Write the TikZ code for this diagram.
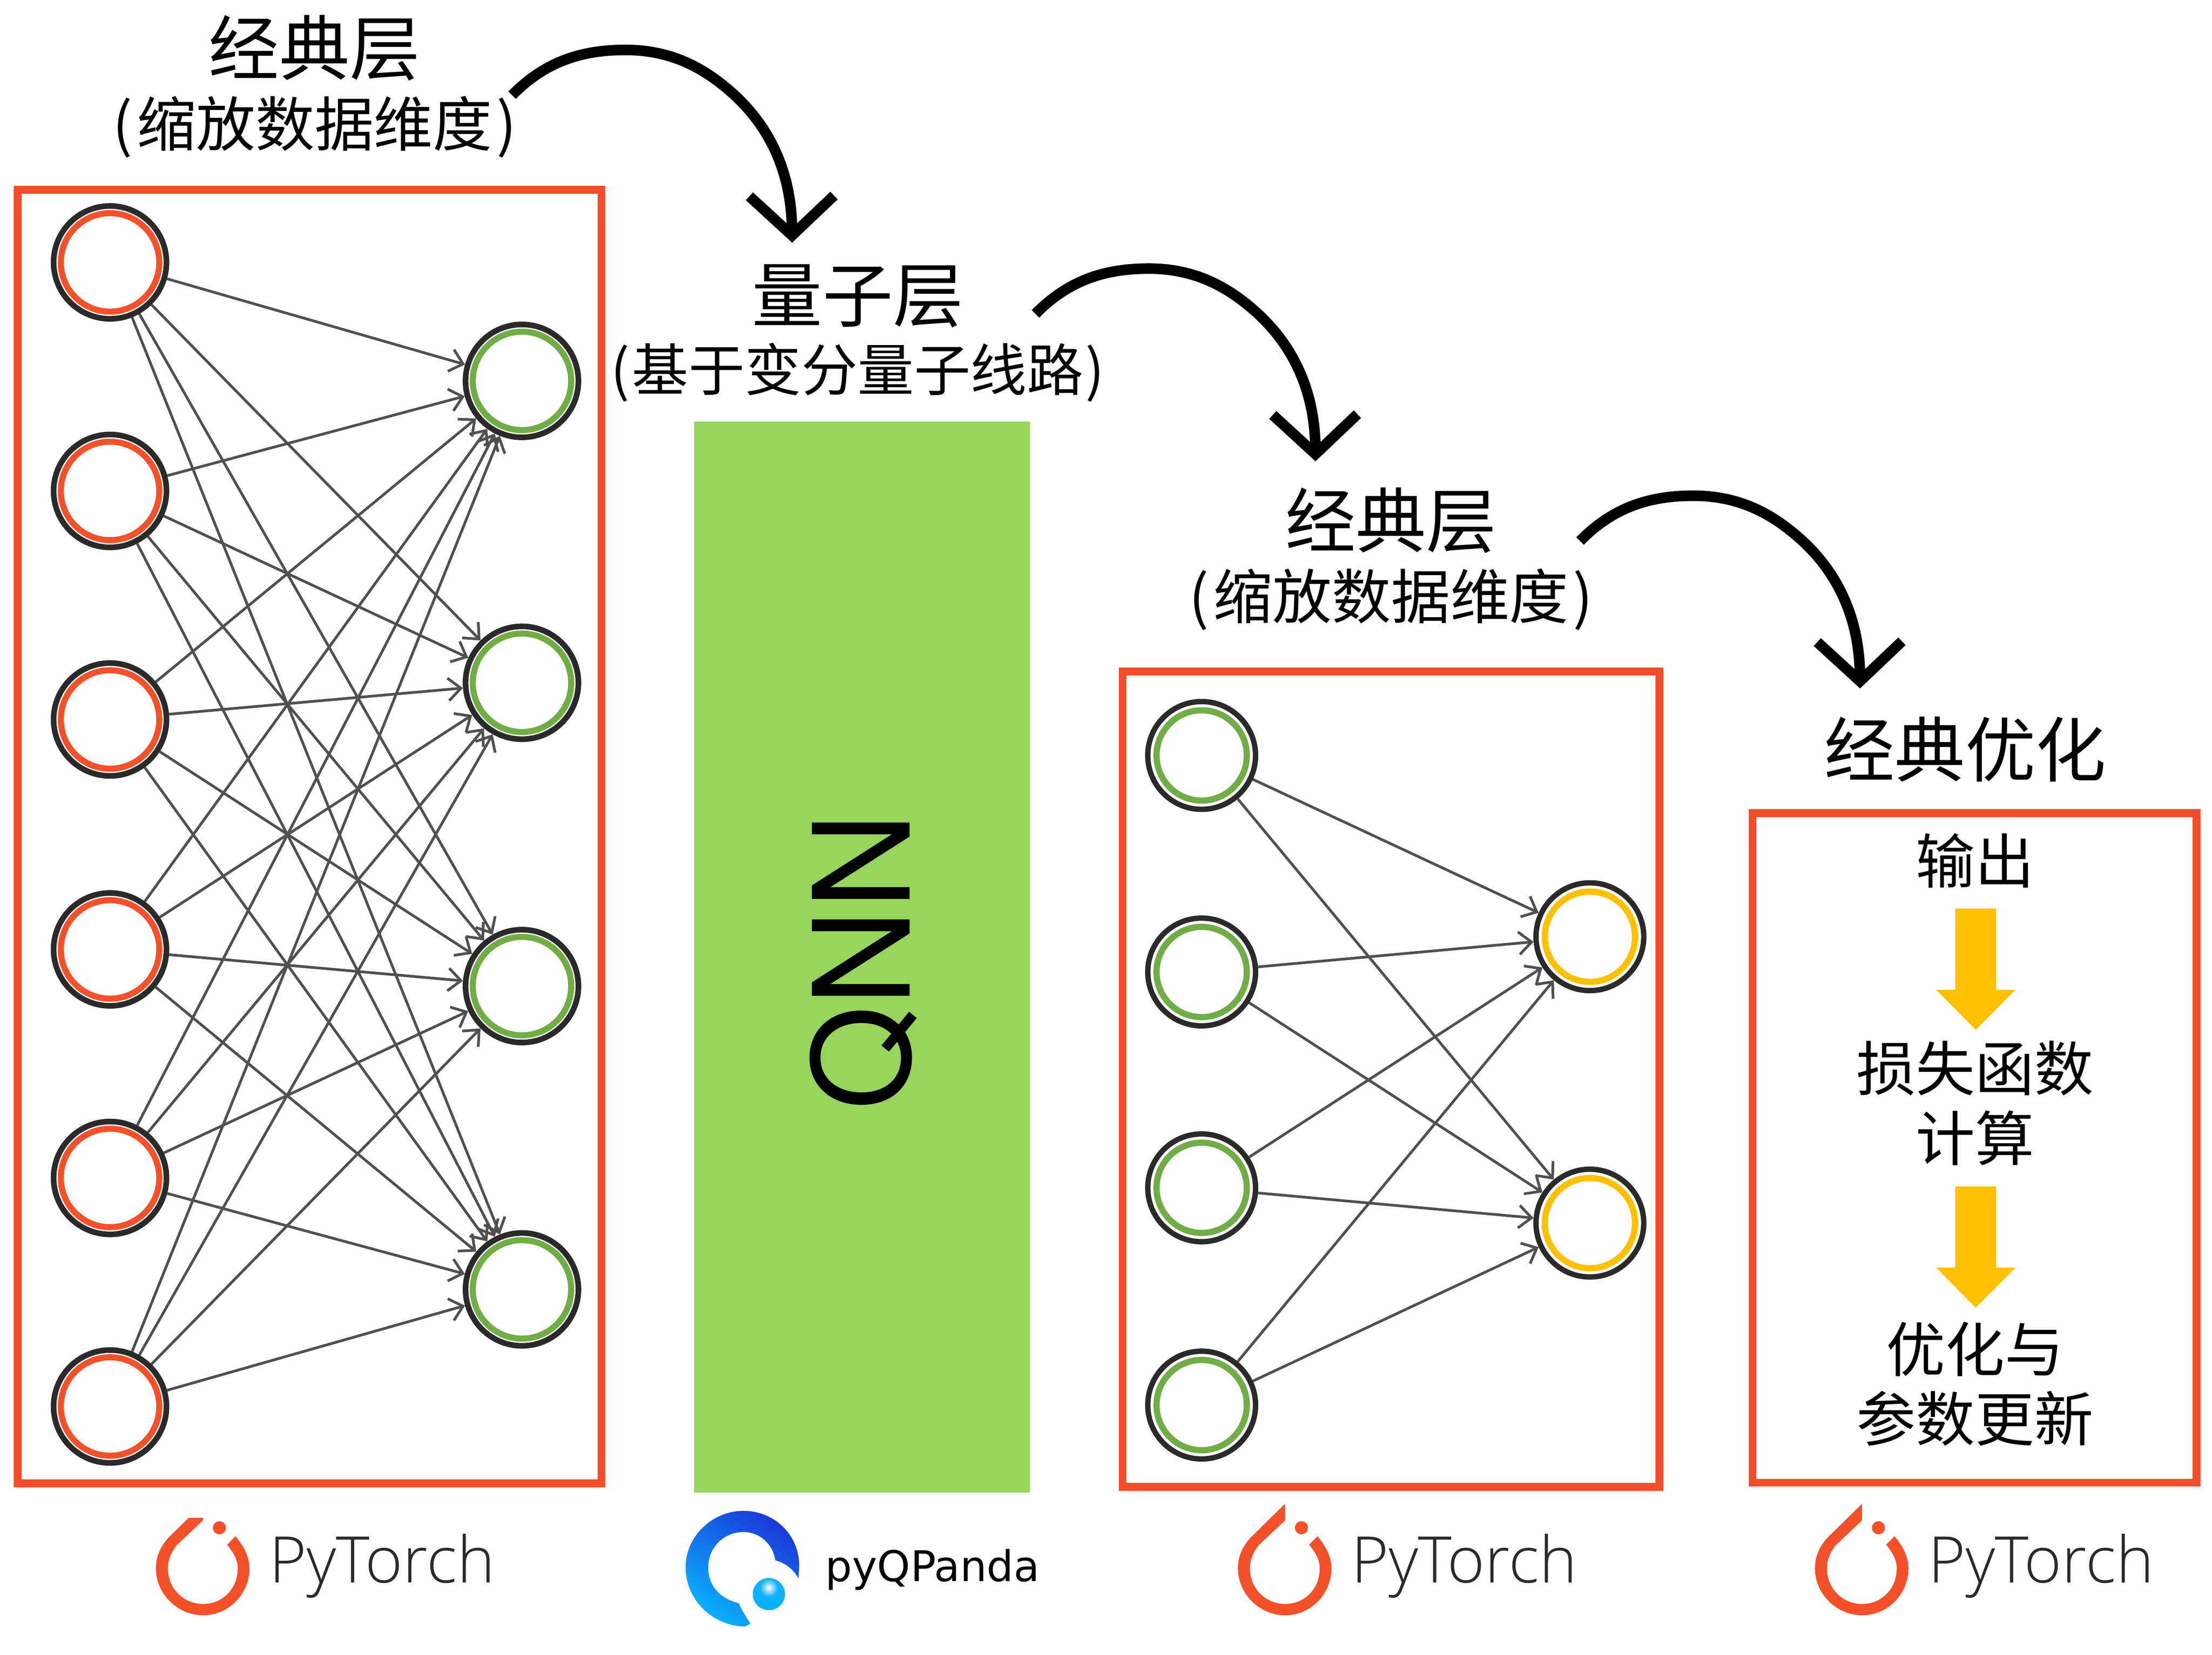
\documentclass[tikz,border=0pt]{standalone}
\usepackage{fontspec}
\usetikzlibrary{arrows.meta}
\setmainfont{Noto Sans CJK SC}
\newfontfamily\qnnfont{TeX Gyre Heros}
\newfontfamily\ptfont{Open Sans Light}
\newfontfamily\pqfont{DejaVu Sans}
\definecolor{boxred}{HTML}{F24E2B}
\definecolor{nodered}{HTML}{F4512B}
\definecolor{nodegreen}{HTML}{70AD47}
\definecolor{nodeyellow}{HTML}{FFC000}
\definecolor{qnngreen}{HTML}{97D45B}
\definecolor{edgegray}{HTML}{505050}
\definecolor{ringdark}{HTML}{2A2A2A}
\definecolor{pqdark}{HTML}{1A3AD8}
\definecolor{pqlight}{HTML}{0BB0FF}
\tikzset{
  frame/.style={draw=boxred,line width=5.5pt,inner sep=0pt,rectangle},
  neuronbig/.style={circle,draw=ringdark,line width=4pt,inner sep=0pt,minimum size=80pt,fill=white},
  coreBig/.style={circle,line width=4.3pt,inner sep=0pt,minimum size=69.8pt,fill=white},
  neuronsmall/.style={circle,draw=ringdark,line width=3.8pt,inner sep=0pt,minimum size=76.4pt,fill=white},
  coreSmall/.style={circle,line width=4.4pt,inner sep=0pt,minimum size=64pt,fill=white},
  edgeline/.style={draw=edgegray,line width=1.9pt,-{Straight Barb[length=9pt,width=16pt]},line join=round},
  bigarrow/.style={draw=black,line width=7.5pt,-{Straight Barb[length=28pt,width=60pt]}},
  titletext/.style={font=\fontsize{50}{55}\selectfont,inner sep=0pt},
  subtext/.style={font=\fontsize{42}{48}\selectfont,inner sep=0pt},
  subtextb/.style={font=\fontsize{40}{48}\selectfont,inner sep=0pt},
  steptext/.style={font=\fontsize{42}{49.5}\selectfont,inner sep=0pt,align=center},
  yellowarrow/.style={fill=nodeyellow,draw=none},
}
\newcommand{\ptlogo}[3]{%
  \begin{scope}[shift={(#1,0)}]
    \begin{scope}
    \clip (100,#3) rectangle (190,1150);
    \fill[nodered] (143.9,1066) -- (143.9,1077.7) -- (125,1095.5)
      .. controls (121,1101) and (119,1106) .. (119,1111.7)
      .. controls (119,1126) and (130,1137) .. (144,1137)
      .. controls (158,1137) and (168.5,1126) .. (168.5,1111.7)
      .. controls (168.5,1105) and (165,1100) .. (161,1095)
      -- (166.9,1089)
      .. controls (173,1096) and (176.8,1104) .. (176.8,1111.7)
      .. controls (176.8,1130) and (162,1145) .. (144,1145)
      .. controls (126,1145) and (110.5,1130) .. (110.5,1111.7)
      .. controls (110.5,1103) and (114,1096) .. (119.4,1090)
      -- cycle;
    \end{scope}
    \fill[nodered] (155.5,1083) circle[radius=4.6pt];
    \node[font=\ptfont\fontsize{45.5}{50}\selectfont,text=ringdark,inner sep=0pt,anchor=base] (pt#2) at (270.8,1122) {PyTorch};
  \end{scope}}
\newcommand{\bigcurve}[3]{%
  \begin{scope}[shift={(#1,#2)}]
    \coordinate (p#3) at (363,67.5);
    \coordinate (q#3) at (561.5,172);
    \draw[bigarrow] (p#3) .. controls (388,42) and (415,35.4) .. (443.5,35.4)
      .. controls (470,35.4) and (492,44) .. (512,60)
      .. controls (540,82) and (561,115) .. (q#3);
  \end{scope}}
\begin{document}
\begin{tikzpicture}[x=1pt,y=-1pt]
\useasboundingbox (0,0) rectangle (1568,1172.95);

% frames
\node[frame,minimum width=413.8pt,minimum height=916.8pt] (box1) at (219.5,593) {};
\node[frame,minimum width=380.5pt,minimum height=578pt] (box3) at (986,765) {};
\node[frame,minimum width=314.7pt,minimum height=474.5pt] (box4) at (1399.7,813.7) {};
\node[fill=qnngreen,inner sep=0pt,minimum width=238pt,minimum height=759pt] (qnn) at (611,678.5) {};
\node[rotate=90,font=\qnnfont\fontsize{95}{100}\selectfont,inner sep=0pt] (qnnt) at (612,681.5) {QNN};

% left network
\foreach \i/\y in {1/186,2/348,3/510,4/673,5/835,6/997}{
  \node[neuronbig] (a\i) at (78,\y) {};
}
\foreach \i/\y in {1/270,2/484,3/699,4/914}{
  \node[neuronbig] (b\i) at (370,\y) {};
}
\foreach \i in {1,...,6}{\foreach \j in {1,...,4}{
  \draw[edgeline] (a\i) -- (b\j);
}}
\foreach \i/\y in {1/186,2/348,3/510,4/673,5/835,6/997}{
  \node[coreBig,draw=nodered] (ai\i) at (78,\y) {};
}
\foreach \i/\y in {1/270,2/484,3/699,4/914}{
  \node[coreBig,draw=nodegreen] (bi\i) at (370,\y) {};
}

% right network
\foreach \i/\y in {1/535.5,2/689,3/842,4/996}{
  \node[neuronsmall] (c\i) at (851.8,\y) {};
  \node[coreSmall,draw=nodegreen] (ci\i) at (851.8,\y) {};
}
\foreach \i/\y in {1/664,2/867}{
  \node[neuronsmall] (d\i) at (1127,\y) {};
  \node[coreSmall,draw=nodeyellow] (di\i) at (1127,\y) {};
}
\foreach \i in {1,...,4}{\foreach \j in {1,2}{
  \draw[edgeline] (c\i) -- (d\j);
}}

% labels
\node[titletext] (t1) at (223,34) {经典层};
\node[subtext] (s1) at (223,90) {(\kern3pt缩放数据维度\kern3pt)};
\node[titletext] (t2) at (608,210) {量子层};
\node[subtextb] (s2) at (608,264) {(\kern1.5pt基于变分量子线路\kern1.5pt)};
\node[titletext] (t3) at (986,369) {经典层};
\node[subtext] (s3) at (986,425) {(\kern3pt缩放数据维度\kern3pt)};
\node[titletext] (t4) at (1393,531) {经典优化};

% curved arrows
\bigcurve{0}{0}{a}
\bigcurve{371}{155}{b}
\bigcurve{757}{316}{c}

% optimisation column
\node[steptext] (o1) at (1400,610) {输出};
\node[steptext] (o2) at (1400,782) {损失函数\\计算};
\node[steptext] (o3) at (1400,981) {优化与\\参数更新};
\fill[yellowarrow] (1386,644) -- (1415,644) -- (1415,701.6) -- (1428.6,701.6) -- (1400.5,730) -- (1372.5,701.6) -- (1386,701.6) -- cycle;
\fill[yellowarrow] (1386,841) -- (1415,841) -- (1415,898.6) -- (1428.6,898.6) -- (1400.5,927) -- (1372.5,898.6) -- (1386,898.6) -- cycle;

% logos
\ptlogo{0}{a}{1076}
\ptlogo{767}{b}{1060}
\ptlogo{1176}{c}{1060}
\shade[left color=pqdark,right color=pqlight,shading angle=-35]
  (566,1119) -- (566.5,1110) .. controls (566.5,1088) and (549,1071) .. (527,1071)
  .. controls (505,1071) and (486,1089) .. (486,1111)
  .. controls (486,1134) and (505,1152.5) .. (528,1153)
  -- (532,1151)
  .. controls (528,1145) and (525,1140) .. (523.7,1136.5)
  .. controls (510,1133) and (502,1124) .. (502,1111)
  .. controls (502,1097) and (513,1086) .. (527,1086)
  .. controls (539,1086) and (548,1095) .. (549.6,1106)
  .. controls (557,1108) and (563,1113) .. (566,1119) -- cycle;
\fill[pqlight] (545,1130) circle[radius=11.4pt];
\shade[inner color=white,outer color=pqlight] (545,1125.5) circle[radius=6.5pt];
\node[font=\pqfont\fontsize{30}{34}\selectfont,inner sep=0pt,anchor=base] (pq) at (661,1121) {pyQPanda};
\end{tikzpicture}
\end{document}
